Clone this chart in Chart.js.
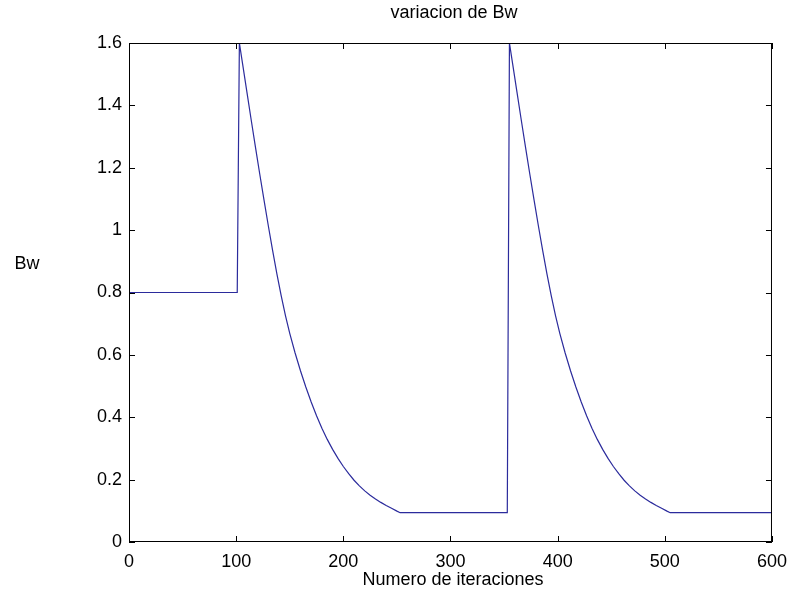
<!DOCTYPE html>
<html>
<head>
<meta charset="utf-8">
<script src="https://cdn.jsdelivr.net/npm/chart.js@4.4.1/dist/chart.umd.min.js"></script>
<style>
  html, body { margin: 0; padding: 0; background: #fff; }
  #wrap { width: 796px; height: 592px; position: relative; }
</style>
</head>
<body>
<div id="wrap"><canvas id="bwChart"></canvas></div>
<script>
// values (iteration -> Bw)
const iterations = [
  0, 101, 102, 103, 106, 110, 114, 118, 122, 126, 130, 134, 138, 142, 146, 150,
  155, 160, 165, 170, 175, 180, 185, 190, 195, 200, 205, 210, 215, 220, 225, 230,
  235, 240, 245, 250, 253,
  353, 354, 355, 358, 362, 366, 370, 374, 378, 382, 386, 390, 394, 398, 402,
  407, 412, 417, 422, 427, 432, 437, 442, 447, 452, 457, 462, 467, 472, 477, 482,
  487, 492, 497, 502, 505, 600
];
const bw = [
  0.8, 0.8, 1.2, 1.6, 1.533, 1.443, 1.354, 1.266, 1.18, 1.096, 1.014, 0.935, 0.86, 0.79, 0.726, 0.669,
  0.606, 0.549, 0.497, 0.449, 0.405, 0.365, 0.329, 0.297, 0.268, 0.242, 0.219, 0.198, 0.18, 0.164, 0.15, 0.138,
  0.127, 0.117, 0.108, 0.099, 0.094,
  0.094, 0.84, 1.6, 1.533, 1.443, 1.354, 1.266, 1.18, 1.096, 1.014, 0.935, 0.86, 0.79, 0.726, 0.669,
  0.606, 0.549, 0.497, 0.449, 0.405, 0.365, 0.329, 0.297, 0.268, 0.242, 0.219, 0.198, 0.18, 0.164, 0.15, 0.138,
  0.127, 0.117, 0.108, 0.099, 0.094, 0.094
];
const xTicks = [0, 100, 200, 300, 400, 500, 600];
const yTicks = [0, 0.2, 0.4, 0.6, 0.8, 1, 1.2, 1.4, 1.6];
const yTickLabels = ['0', '0.2', '0.4', '0.6', '0.8', '1', '1.2', '1.4', '1.6'];

const FONT = "'Liberation Sans', Arial, sans-serif";

// matlab style box + inward ticks + texts
const matlabFrame = {
  id: 'matlabFrame',
  afterDraw(chart) {
    const { ctx, chartArea: a, scales } = chart;
    ctx.save();
    ctx.strokeStyle = '#000';
    ctx.lineWidth = 1;
    ctx.strokeRect(a.left + 0.5, a.top + 0.5, a.right - a.left - 1, a.bottom - a.top - 1);
    ctx.beginPath();
    xTicks.forEach(v => {
      const x = Math.round(scales.x.getPixelForValue(v)) + 0.5;
      ctx.moveTo(x, a.bottom); ctx.lineTo(x, a.bottom - 6);
      ctx.moveTo(x, a.top); ctx.lineTo(x, a.top + 6);
    });
    yTicks.forEach(v => {
      const y = Math.round(scales.y.getPixelForValue(v)) + 0.5;
      ctx.moveTo(a.left, y); ctx.lineTo(a.left + 6, y);
      ctx.moveTo(a.right, y); ctx.lineTo(a.right - 6, y);
    });
    ctx.stroke();

    ctx.fillStyle = '#000';
    ctx.font = '18px ' + FONT;
    ctx.textAlign = 'center';
    ctx.textBaseline = 'middle';
    ctx.fillText('variacion de Bw', 454, 13);
    ctx.fillText('Numero de iteraciones', 453, 580);
    ctx.fillText('Bw', 27, 264);
    ctx.restore();
  }
};

new Chart(document.getElementById('bwChart').getContext('2d'), {
  type: 'line',
  data: {
    datasets: [{
      data: iterations.map((x, i) => ({ x: x, y: bw[i] })),
      borderColor: '#2b2b9c',
      borderWidth: 1.2,
      pointRadius: 0,
      tension: 0,
      fill: false
    }]
  },
  options: {
    responsive: true,
    maintainAspectRatio: false,
    animation: false,
    layout: { padding: { left: 0, right: 16, top: 43, bottom: 0 } },
    plugins: {
      legend: { display: false },
      tooltip: { enabled: false },
      title: { display: false }
    },
    scales: {
      x: {
        type: 'linear',
        min: 0,
        max: 600,
        afterBuildTicks: s => { s.ticks = xTicks.map(v => ({ value: v })); },
        afterFit: s => { s.height = 50; },
        grid: { display: false, drawTicks: false },
        border: { display: false },
        ticks: { color: '#000', padding: 9, maxRotation: 0, font: { family: FONT, size: 18 } }
      },
      y: {
        type: 'linear',
        min: 0,
        max: 1.6,
        afterBuildTicks: s => { s.ticks = yTicks.map(v => ({ value: v })); },
        afterFit: s => { s.width = 129; },
        grid: { display: false, drawTicks: false },
        border: { display: false },
        ticks: {
          color: '#000',
          padding: 7,
          font: { family: FONT, size: 18 },
          callback: (v, i) => yTickLabels[i]
        }
      }
    }
  },
  plugins: [matlabFrame]
});
</script>
</body>
</html>
